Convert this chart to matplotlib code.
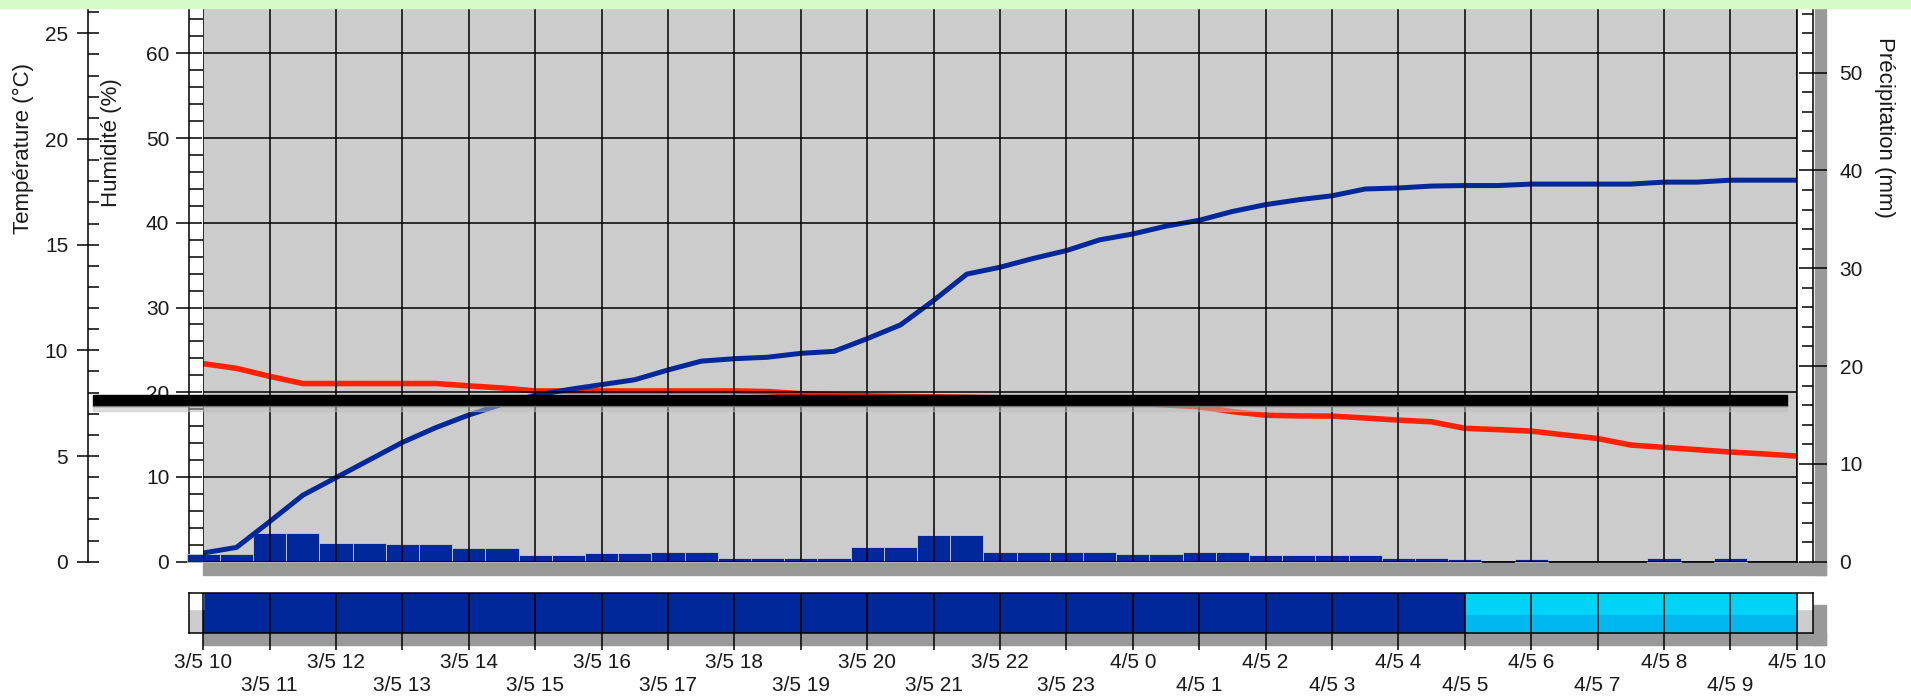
import numpy as np
import matplotlib.pyplot as plt
from matplotlib.patches import Rectangle
from matplotlib.ticker import MultipleLocator

plt.rcParams['font.family'] = ['Liberation Sans', 'DejaVu Sans']

W, H = 1911, 700
BLUE = '#00289b'
RED = '#ff2200'
CYAN = '#00d2f8'
TXT = '#1a1a1a'

# half-hourly readings, hours after 3/5 10h
half_hours = np.arange(0, 24.5, 0.5)
temperature = [9.37, 9.15, 8.77, 8.43, 8.43, 8.43, 8.43, 8.43, 8.32, 8.22,
               8.08, 8.08, 8.08, 8.08, 8.08, 8.08, 8.08, 8.05, 7.95, 7.90,
               7.85, 7.82, 7.80, 7.78, 7.75, 7.72, 7.70, 7.60, 7.50, 7.42,
               7.33, 7.10, 6.93, 6.90, 6.89, 6.80, 6.70, 6.62, 6.31, 6.25,
               6.18, 6.00, 5.83, 5.52, 5.41, 5.30, 5.19, 5.10, 5.00]
rain_total = [0.89, 1.46, 4.1, 6.8, 8.6, 10.4, 12.2, 13.7, 15.0, 16.1,
              17.0, 17.6, 18.1, 18.6, 19.6, 20.5, 20.75, 20.9, 21.3, 21.5,
              22.8, 24.2, 26.7, 29.4, 30.1, 31.0, 31.8, 32.9, 33.5, 34.3,
              34.9, 35.8, 36.5, 37.0, 37.4, 38.1, 38.2, 38.4, 38.45, 38.45,
              38.6, 38.6, 38.6, 38.6, 38.8, 38.8, 39.0, 39.0, 39.0]
rain_step = [0.83, 0.83, 2.94, 2.94, 1.92, 1.92, 1.78, 1.78, 1.38, 1.38,
             0.68, 0.68, 0.85, 0.85, 1.03, 1.00, 0.38, 0.38, 0.38, 0.38,
             1.53, 1.53, 2.72, 2.72, 0.95, 0.95, 0.95, 0.95, 0.78, 0.78,
             1.02, 1.02, 0.65, 0.65, 0.65, 0.65, 0.41, 0.41, 0.24, 0.00,
             0.24, 0.00, 0.00, 0.00, 0.41, 0.00, 0.41, 0.00, 0.00]

# hourly sky strip: 0 = rain, 1 = clear
sky_state = [0] * 19 + [1] * 5
hour_labels = ['3/5 10', '3/5 11', '3/5 12', '3/5 13', '3/5 14', '3/5 15',
               '3/5 16', '3/5 17', '3/5 18', '3/5 19', '3/5 20', '3/5 21',
               '3/5 22', '3/5 23', '4/5 0', '4/5 1', '4/5 2', '4/5 3',
               '4/5 4', '4/5 5', '4/5 6', '4/5 7', '4/5 8', '4/5 9', '4/5 10']


def box(x0, y0, x1, y1):
    # pixel box (top-left origin) -> figure fraction rect
    return [x0 / W, 1 - y1 / H, (x1 - x0) / W, (y1 - y0) / H]


def fig_rect(x0, y0, x1, y1, **kw):
    r = Rectangle((x0 / W, 1 - y1 / H), (x1 - x0) / W, (y1 - y0) / H,
                  transform=fig.transFigure, **kw)
    fig.add_artist(r)


fig = plt.figure(figsize=(W / 100, H / 100), dpi=100)
PT = 0.72  # points per pixel

# shadows
fig_rect(203, 562, 1826, 575, color='#999999', zorder=-1)
fig_rect(1815, 8, 1826, 575, color='#999999', zorder=-1)
fig_rect(203, 633, 1826, 645, color='#999999', zorder=-1)
fig_rect(1813, 605, 1826, 645, color='#999999', zorder=-1)

plot_box = box(203.3, 8, 1796.7, 561.7)
hours = np.arange(25)

# humidity axis (main)
ax = fig.add_axes(plot_box)
ax.set_facecolor('#cccccc')
ax.set_xlim(0, 24)
ax.set_ylim(0, 65.35)
ax.spines['top'].set_visible(False)
ax.spines['left'].set_position(('outward', 14 * PT))
for s in ax.spines.values():
    s.set_linewidth(1.1)
ax.tick_params(axis='x', bottom=False, labelbottom=False)
ax.yaxis.set_major_locator(MultipleLocator(10))
ax.yaxis.set_minor_locator(MultipleLocator(2))
ax.tick_params(axis='y', which='major', direction='inout', length=26 * PT,
               width=1.1, labelsize=15, pad=5, labelcolor=TXT)
ax.tick_params(axis='y', which='minor', direction='in', length=14 * PT, width=1.1)

# temperature axis
ax_t = ax.twinx()
ax_t.set_ylim(0, 26.2)
for k in ['top', 'bottom', 'right']:
    ax_t.spines[k].set_visible(False)
ax_t.spines['left'].set_visible(True)
ax_t.spines['left'].set_position(('outward', 115.3 * PT))
ax_t.spines['left'].set_linewidth(1.1)
ax_t.yaxis.tick_left()
ax_t.yaxis.set_major_locator(MultipleLocator(5))
ax_t.yaxis.set_minor_locator(MultipleLocator(1))
ax_t.tick_params(axis='y', which='major', direction='inout', length=23 * PT,
                 width=1.1, labelsize=15, pad=6, labelcolor=TXT)
ax_t.tick_params(axis='y', which='minor', direction='in', length=11 * PT, width=1.1)
ax_t.plot(half_hours, temperature, color=RED, lw=4, solid_joinstyle='round')

# precipitation axis
ax_p = ax.twinx()
ax_p.set_ylim(0, 56.6)
for k in ['top', 'bottom', 'left']:
    ax_p.spines[k].set_visible(False)
ax_p.spines['right'].set_position(('outward', 16.3 * PT))
ax_p.spines['right'].set_linewidth(1.1)
ax_p.yaxis.set_major_locator(MultipleLocator(10))
ax_p.yaxis.set_minor_locator(MultipleLocator(2))
ax_p.tick_params(axis='y', which='major', direction='inout', length=28 * PT,
                 width=1.1, labelsize=15, pad=9, labelcolor=TXT)
ax_p.tick_params(axis='y', which='minor', direction='in', length=11 * PT, width=1.1)
step = np.array(rain_step)
wet = step > 0
ax_p.bar(half_hours[wet], step[wet], width=0.5, color=BLUE,
         edgecolor='#cccccc', linewidth=0.6, clip_on=False)
ax_p.plot(half_hours, rain_total, color=BLUE, lw=3.6, solid_joinstyle='round')

# grid on top of everything
ax_g = fig.add_axes(plot_box)
ax_g.set_xlim(0, 24)
ax_g.set_ylim(0, 65.35)
ax_g.patch.set_visible(False)
for s in ax_g.spines.values():
    s.set_visible(False)
ax_g.set_xticks(hours)
ax_g.set_yticks(np.arange(0, 61, 10))
ax_g.tick_params(length=0, labelleft=False, labelbottom=False)
ax_g.grid(color='black', lw=1.1)

# sky strip
ax_s = fig.add_axes(box(189, 593, 1813, 633))
ax_s.set_xlim(-0.2154, 24.2455)
ax_s.set_ylim(0, 1)
ax_s.set_facecolor('#cccccc')
state = np.array(sky_state)
ax_s.bar(hours[:-1] + 0.5, 1, width=1,
         color=[CYAN if s else BLUE for s in sky_state], linewidth=0)
ax_s.bar(hours[:-1][state == 1] + 0.5, 0.45, width=1, color='#00b8ee', linewidth=0)
ax_s.add_patch(Rectangle((-0.2154, 0.6), 0.2154, 0.4, color='white'))
ax_s.add_patch(Rectangle((24, 0.6), 0.2455, 0.4, color='white'))
ax_s.set_yticks([])
ax_s.set_xticks(hours)
ax_s.set_xticklabels([lab if i % 2 == 0 else '\n' + lab
                      for i, lab in enumerate(hour_labels)], linespacing=1.25)
ax_s.tick_params(axis='x', direction='out', length=17 * PT, width=1.1,
                 pad=2, labelsize=15, labelcolor=TXT)
ax_s.grid(axis='x', color='black', lw=1.1)
for s in ax_s.spines.values():
    s.set_linewidth(1.1)

# axis titles
fig.text(23 / W, 1 - 148 / H, 'Température (°C)', rotation=90, ha='center',
         va='center', fontsize=16, color=TXT)
fig.text(112 / W, 1 - 143 / H, 'Humidité (%)', rotation=90, ha='center',
         va='center', fontsize=16, color=TXT)
fig.text(1885 / W, 1 - 127 / H, 'Précipitation (mm)', rotation=-90, ha='center',
         va='center', fontsize=16, color=TXT)

# top band and the dark bar across the chart
fig_rect(0, 0, W, 8, color='#d5fcc8', zorder=10)
fig_rect(93, 395, 1787, 406, color='black', zorder=10)
fig_rect(93, 406, 1787, 411, color='#bdbdbd', alpha=0.5, zorder=10)

fig.savefig('out.png', dpi=100)
